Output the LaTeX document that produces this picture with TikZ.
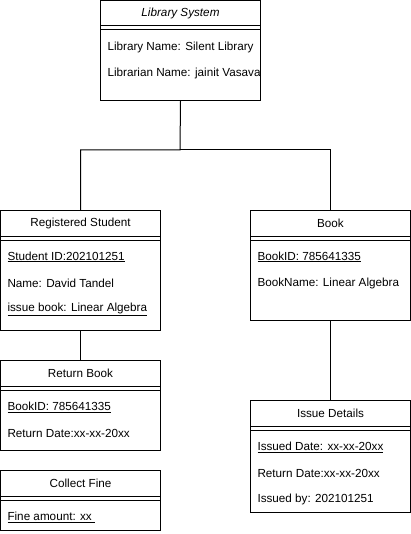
\documentclass[tikz,border=0pt]{standalone}
\usepackage{fontspec}
\setmainfont{Liberation Sans}
\tikzset{
  classbox/.style={draw, line width=1pt, minimum width=160pt, inner sep=0pt, anchor=north west},
  head/.style={inner sep=0pt, font=\fontsize{11.7}{14}\selectfont},
  attr/.style={anchor=west, inner sep=0pt, font=\fontsize{11.7}{14}\selectfont},
}
\begin{document}
\begin{tikzpicture}[x=1pt,y=-1pt,line width=1pt]
  \useasboundingbox (0,0) rectangle (411,534);
  % class boxes
  \node[classbox, minimum height=100pt] (lib) at (100,0) {};
  \node[classbox, minimum height=120pt] (stu) at (0,210) {};
  \node[classbox, minimum height=110pt] (book) at (250,210) {};
  \node[classbox, minimum height=90pt] (ret) at (0,360) {};
  \node[classbox, minimum height=60pt] (fine) at (0,470) {};
  \node[classbox, minimum height=112pt] (issue) at (250,400) {};
  \foreach \n in {lib,stu,book,ret,fine,issue} {
    \draw ([yshift=-26pt]\n.north west) -- ([yshift=-26pt]\n.north east);
    \draw ([yshift=-30pt]\n.north west) -- ([yshift=-30pt]\n.north east);
  }
  % headers
  \node[head] (libhead) at ([yshift=-13.5pt]lib.north) {\textit{Library System}};
  \node[head] (stuhead) at ([yshift=-13.5pt]stu.north) {Registered Student};
  \node[head] (bookhead) at ([yshift=-13.5pt]book.north) {Book};
  \node[head] (rethead) at ([yshift=-13.5pt]ret.north) {Return Book};
  \node[head] (finehead) at ([yshift=-13.5pt]fine.north) {Collect Fine};
  \node[head] (issuehead) at ([yshift=-13.5pt]issue.north) {Issue Details};
  % attributes
  \begin{scope}
    \clip (lib.north west) rectangle ([xshift=-1.5pt]lib.south east);
    \node[attr] (lib1) at ([xshift=7pt,yshift=-47pt]lib.north west) {Library Name: Silent Library};
    \node[attr] (lib2) at ([xshift=7pt,yshift=-73pt]lib.north west) {Librarian Name: jainit Vasava};
  \end{scope}
  \node[attr] (stu1) at ([xshift=7pt,yshift=-47pt]stu.north west) {\underline{Student ID:202101251}};
  \node[attr] (stu2) at ([xshift=7pt,yshift=-73pt]stu.north west) {Name: David Tandel};
  \node[attr] (stu3) at ([xshift=7pt,yshift=-99pt]stu.north west) {\underline{issue book: Linear Algebra}};
  \node[attr] (book1) at ([xshift=7pt,yshift=-47pt]book.north west) {\underline{BookID: 785641335}};
  \node[attr] (book2) at ([xshift=7pt,yshift=-73pt]book.north west) {BookName: Linear Algebra};
  \node[attr] (ret1) at ([xshift=7pt,yshift=-47pt]ret.north west) {\underline{BookID: 785641335}};
  \node[attr] (ret2) at ([xshift=7pt,yshift=-73pt]ret.north west) {Return Date:xx-xx-20xx};
  \node[attr] (fine1) at ([xshift=7pt,yshift=-47pt]fine.north west) {\underline{Fine amount: xx\ }};
  \node[attr] (issue1) at ([xshift=7pt,yshift=-47pt]issue.north west) {\underline{Issued Date: xx-xx-20xx}};
  \node[attr] (issue2) at ([xshift=7pt,yshift=-73pt]issue.north west) {Return Date:xx-xx-20xx};
  \node[attr] (issue3) at ([xshift=7pt,yshift=-99pt]issue.north west) {Issued by: 202101251};
  % connectors
  \coordinate (split) at (180,150);
  \draw (lib.south) -- (split) -| (stu.north);
  \draw (split) -| (book.north);
  \draw (stu.south) -- (ret.north);
  \draw (book.south) -- (issue.north);
\end{tikzpicture}
\end{document}
